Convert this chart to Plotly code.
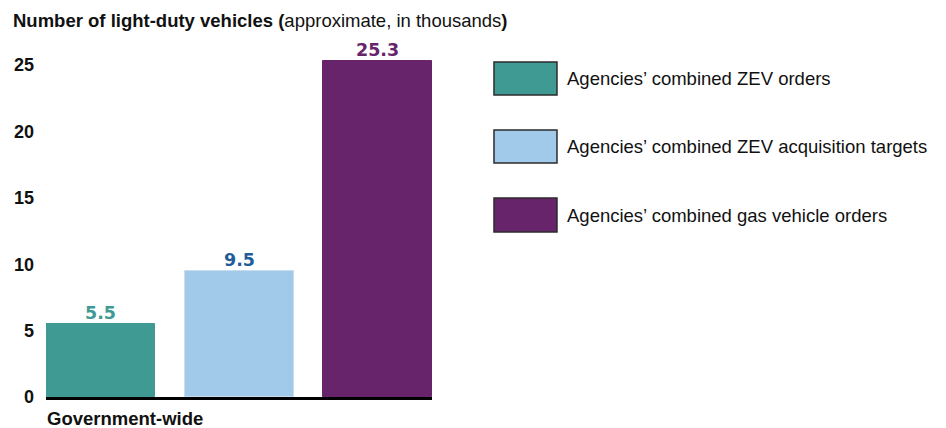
import plotly.graph_objects as go

# Light-duty vehicle counts, government-wide (thousands)
series_names = [
    "Agencies\u2019 combined ZEV orders",
    "Agencies\u2019 combined ZEV acquisition targets",
    "Agencies\u2019 combined gas vehicle orders",
]
values = [5.5, 9.5, 25.3]
bar_colors = ["#3F9A94", "#A1C9EA", "#68246B"]
label_colors = ["#3F9A94", "#1F5C99", "#68246B"]
y_ticks = [0, 5, 10, 15, 20, 25]
group_label = "Government-wide"

FONT = "Arial, Liberation Sans, sans-serif"
LABEL_FONT = "Verdana, DejaVu Sans, sans-serif"
positions = list(range(len(values)))

fig = go.Figure()
fig.add_trace(go.Bar(
    x=positions,
    y=values,
    width=0.787,
    marker=dict(color=bar_colors, line=dict(color=["#3F9A94", "#C8DDEE", "#68246B"], width=1)),
    showlegend=False,
    hoverinfo="skip",
))

# Value labels sitting just above each bar
for xpos, val, col in zip(positions, values, label_colors):
    fig.add_annotation(x=xpos, y=val, text="<b>%s</b>" % val, showarrow=False,
                       xanchor="center", yanchor="bottom", yshift=-1.5,
                       font=dict(family=LABEL_FONT, size=17.5, color=col))

# Legend drawn as swatches with labels to the right of the plot
swatch_rows = [(0.9384, 0.8459), (0.7479, 0.6555), (0.5574, 0.4622)]
for name, color, (top, bottom) in zip(series_names, bar_colors, swatch_rows):
    fig.add_shape(type="rect", xref="paper", yref="paper",
                  x0=1.1606, x1=1.3238, y0=bottom, y1=top,
                  fillcolor=color, line=dict(color="#2B2B2B", width=1.5))
    fig.add_annotation(xref="paper", yref="paper", x=1.345, y=(top + bottom) / 2,
                       text=name, showarrow=False, xanchor="left", yanchor="middle",
                       font=dict(family=FONT, size=18.5, color="#111111"))

# Chart title
fig.add_annotation(xref="paper", yref="paper", x=-0.091, y=1.056, xanchor="left", yanchor="middle",
                   text="<b>Number of light-duty vehicles (</b>approximate, in thousands<b>)</b>",
                   showarrow=False, font=dict(family=FONT, size=18.5, color="#111111"))

# Category label under the bars
fig.add_annotation(xref="paper", yref="paper", x=-0.003, y=-0.059, xanchor="left", yanchor="middle",
                   text="<b>" + group_label + "</b>", showarrow=False,
                   font=dict(family=FONT, size=18.5, color="#111111"))

fig.update_layout(
    width=946, height=428,
    margin=dict(l=46, r=514, t=40, b=31),
    paper_bgcolor="white", plot_bgcolor="white",
    font=dict(family=FONT, color="#111111"),
    xaxis=dict(range=[-0.3935, 2.3935], showticklabels=False, showgrid=False, zeroline=False,
               showline=True, linecolor="black", linewidth=3, ticks=""),
    yaxis=dict(range=[0, 26.88], tickvals=y_ticks, ticktext=["<b>%d</b>" % t for t in y_ticks],
               showgrid=False, zeroline=False, showline=False, ticks="",
               ticklabelstandoff=11,
               tickfont=dict(family=FONT, size=18, color="#111111")),
    bargap=0,
)

fig.write_html("out.html")
